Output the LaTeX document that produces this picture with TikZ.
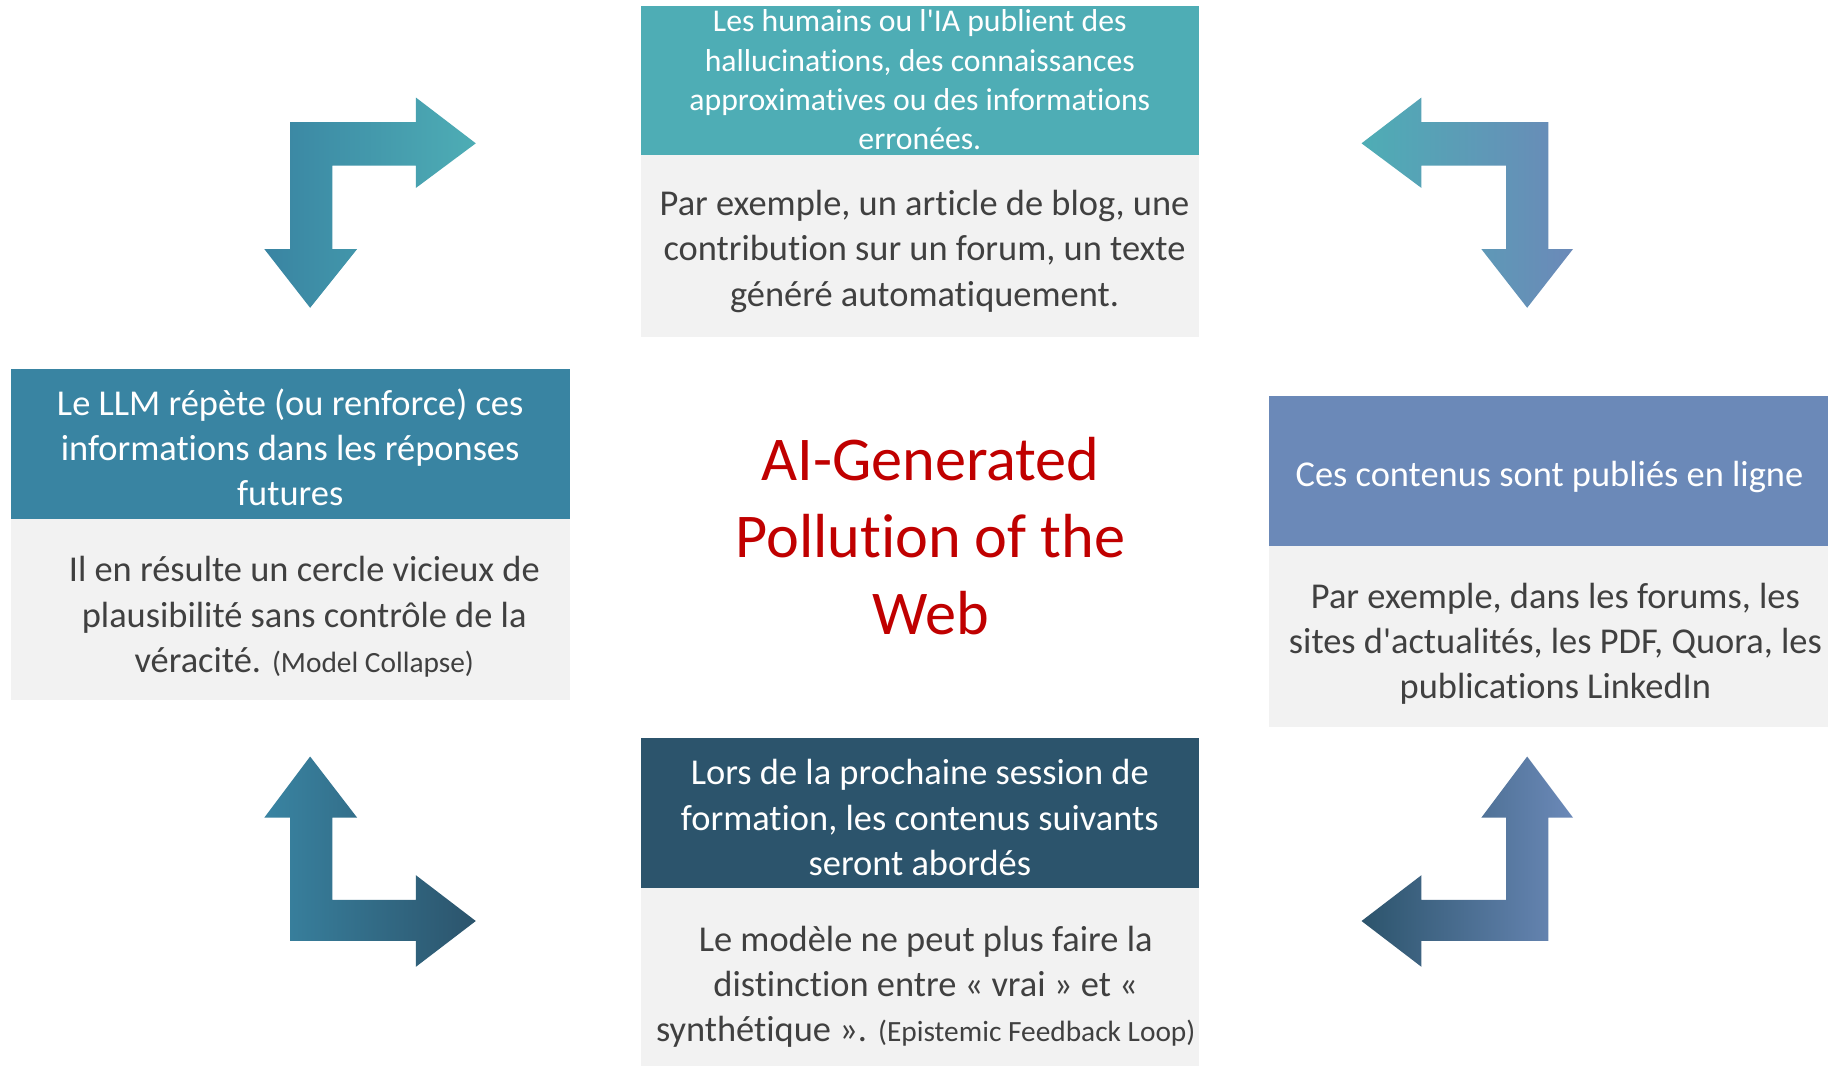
\documentclass[tikz,border=0pt]{standalone}
\usepackage{fontspec}
\setmainfont{Carlito}[Ligatures={TeXOff,NoCommon}]
\definecolor{cTeal}{RGB}{78,173,181}
\definecolor{cBlue}{RGB}{57,132,162}
\definecolor{cSlate}{RGB}{107,137,184}
\definecolor{cNavy}{RGB}{44,84,108}
\definecolor{cGray}{RGB}{242,242,242}
\definecolor{cText}{RGB}{64,64,64}
\definecolor{cRed}{RGB}{192,0,0}
\begin{document}
\begin{tikzpicture}[x=1pt,y=-1pt,
  hdtext/.style={text=white,align=center,inner sep=0pt,font={\fontsize{31}{38.5}\selectfont}},
  hdsmall/.style={text=white,align=center,inner sep=0pt,font={\fontsize{27}{33.5}\selectfont}},
  bodytext/.style={text=cText,align=center,inner sep=0pt,font={\fontsize{31}{38.5}\selectfont}},
  titletext/.style={text=cRed,align=center,inner sep=0pt,font={\fontsize{53}{65.5}\selectfont}}]
\useasboundingbox (0,0) rectangle (1568,907);
\fill[white] (0,0) rectangle (1568,907);
\newcommand{\smalltxt}[1]{{\fontsize{25}{38.5}\selectfont #1}}

% top box
\fill[cTeal] (546,5) rectangle (1021,132);
\fill[cGray] (546,132) rectangle (1021,287);
\node[hdsmall] (tophead) at (783,68) {Les humains ou l'IA publient des\\hallucinations, des connaissances\\approximatives ou des informations\\erronées.};
\node[bodytext] (topbody) at (787,214) {Par exemple, un article de blog, une\\contribution sur un forum, un texte\\généré automatiquement.};

% left box
\fill[cBlue] (9,314) rectangle (485,442);
\fill[cGray] (9,442) rectangle (485,596);
\node[hdtext] (lefthead) at (247,381) {Le LLM répète (ou renforce) ces\\informations dans les réponses\\futures};
\node[bodytext] (leftbody) at (259,525) {Il en résulte un cercle vicieux de\\plausibilité sans contrôle de la\\véracité. \smalltxt{(Model Collapse)}};

% right box
\fill[cSlate] (1080,337) rectangle (1556,465);
\fill[cGray] (1080,465) rectangle (1556,619);
\node[hdtext] (righthead) at (1319,406) {Ces contenus sont publiés en ligne};
\node[bodytext] (rightbody) at (1324,548) {Par exemple, dans les forums, les\\sites d'actualités, les PDF, Quora, les\\publications LinkedIn};

% bottom box
\fill[cNavy] (546,628) rectangle (1021,756);
\fill[cGray] (546,756) rectangle (1021,907);
\node[hdtext] (bothead) at (783,696) {Lors de la prochaine session de\\formation, les contenus suivants\\seront abordés};
\node[bodytext] (botbody) at (788,840) {Le modèle ne peut plus faire la\\distinction entre « vrai » et «\\synthétique ». \smalltxt{(Epistemic Feedback Loop)}};

% title
\node[titletext] (title) at (792,456) {AI-Generated\\Pollution of the\\Web};

% arrows
\shade[left color=cBlue,right color=cTeal]
  (247,104) -- (354,104) -- (354,83) -- (405,122) -- (354,160) -- (354,141)
  -- (283,141) -- (283,212) -- (304,212) -- (264,262) -- (225,212) -- (247,212) -- cycle;
\shade[left color=cTeal,right color=cSlate]
  (1318,104) -- (1210,104) -- (1210,83) -- (1159,122) -- (1210,160) -- (1210,141)
  -- (1282,141) -- (1282,212) -- (1261,212) -- (1300,262) -- (1339,212) -- (1318,212) -- cycle;
\shade[left color=cBlue,right color=cNavy]
  (247,801) -- (354,801) -- (354,823) -- (405,784) -- (354,745) -- (354,766)
  -- (283,766) -- (283,696) -- (304,696) -- (264,644) -- (225,696) -- (247,696) -- cycle;
\shade[left color=cNavy,right color=cSlate]
  (1318,801) -- (1210,801) -- (1210,823) -- (1159,784) -- (1210,745) -- (1210,766)
  -- (1282,766) -- (1282,696) -- (1261,696) -- (1300,644) -- (1339,696) -- (1318,696) -- cycle;
\end{tikzpicture}
\end{document}
